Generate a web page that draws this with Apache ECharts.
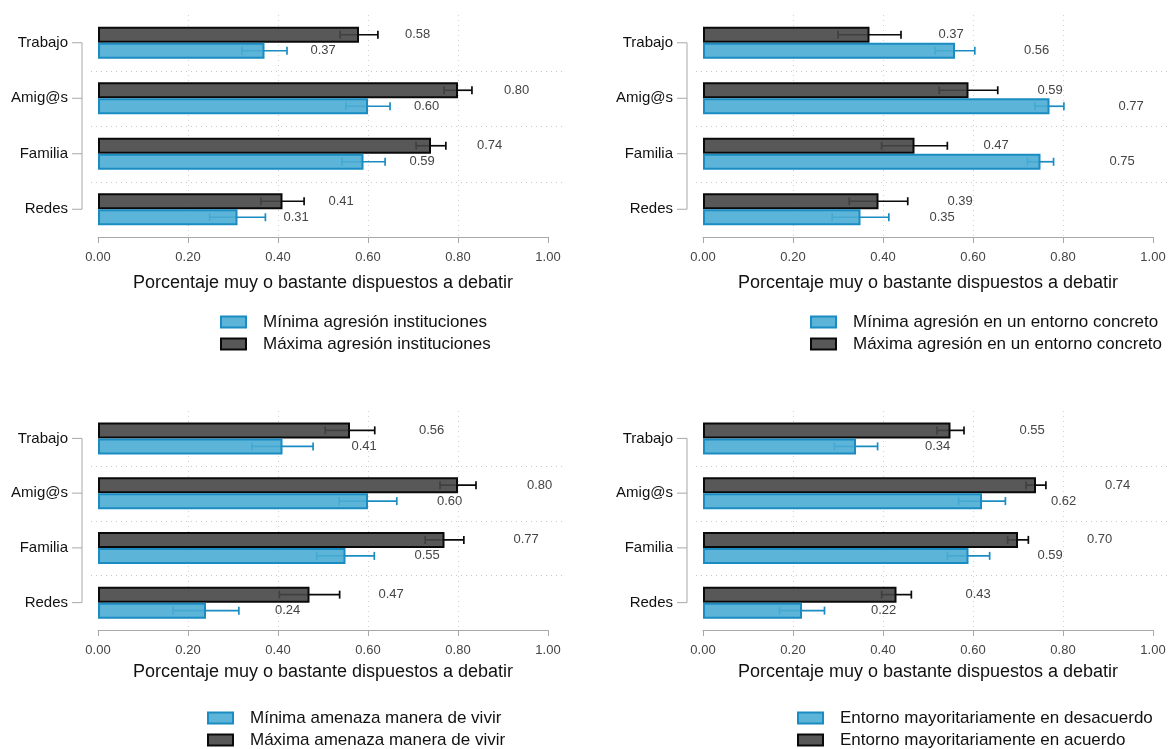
<!DOCTYPE html>
<html>
<head>
<meta charset="utf-8">
<script src="https://cdn.jsdelivr.net/npm/echarts@6/dist/echarts.min.js"></script>
<style>
html,body{margin:0;padding:0;background:#fff;}
#chart{width:1170px;height:749px;}
</style>
</head>
<body>
<div id="chart"></div>
<script>
// ---- data ----
const categories = ['Trabajo', 'Amig@s', 'Familia', 'Redes'];
const xTicks = [0, 0.2, 0.4, 0.6, 0.8, 1.0];

// Top-left: agresión instituciones
const tlBlueName = 'Mínima agresión instituciones';
const tlDarkName = 'Máxima agresión instituciones';
const tlBlue = [0.37, 0.60, 0.59, 0.31];
const tlBlueErr = [0.050, 0.049, 0.048, 0.062];
const tlDark = [0.58, 0.80, 0.74, 0.41];
const tlDarkErr = [0.042, 0.031, 0.033, 0.048];

// Top-right: agresión en un entorno concreto
const trBlueName = 'Mínima agresión en un entorno concreto';
const trDarkName = 'Máxima agresión en un entorno concreto';
const trBlue = [0.56, 0.77, 0.75, 0.35];
const trBlueErr = [0.044, 0.032, 0.029, 0.063];
const trDark = [0.37, 0.59, 0.47, 0.39];
const trDarkErr = [0.070, 0.065, 0.073, 0.065];

// Bottom-left: amenaza manera de vivir
const blBlueName = 'Mínima amenaza manera de vivir';
const blDarkName = 'Máxima amenaza manera de vivir';
const blBlue = [0.41, 0.60, 0.55, 0.24];
const blBlueErr = [0.068, 0.064, 0.064, 0.073];
const blDark = [0.56, 0.80, 0.77, 0.47];
const blDarkErr = [0.055, 0.040, 0.043, 0.067];

// Bottom-right: entorno
const brBlueName = 'Entorno mayoritariamente en desacuerdo';
const brDarkName = 'Entorno mayoritariamente en acuerdo';
const brBlue = [0.34, 0.62, 0.59, 0.22];
const brBlueErr = [0.048, 0.052, 0.047, 0.050];
const brDark = [0.55, 0.74, 0.70, 0.43];
const brDarkErr = [0.030, 0.022, 0.023, 0.033];

const axisTitle = 'Porcentaje muy o bastante dispuestos a debatir';

// ---- styles ----
const FONT = 'Liberation Sans, Arial, sans-serif';
const BLUE_FILL = 'rgba(74,172,212,0.9)';
const BLUE_LINE = '#1a8cc2';
const DARK_FILL = 'rgba(70,70,70,0.9)';
const DARK_LINE = '#0a0a0a';
const BAR_W = 16;

const panels = [
  {grid: {left: 98, width: 450, top: 15, height: 222}, legend: {left: 220, top: 313}, nameGap: 37,
   blueName: tlBlueName, darkName: tlDarkName, blue: tlBlue, blueErr: tlBlueErr, dark: tlDark, darkErr: tlDarkErr, labDist: 46},
  {grid: {left: 703, width: 450, top: 15, height: 222}, legend: {left: 810, top: 313}, nameGap: 37,
   blueName: trBlueName, darkName: trDarkName, blue: trBlue, blueErr: trBlueErr, dark: trDark, darkErr: trDarkErr, labDist: 69},
  {grid: {left: 98, width: 450, top: 411, height: 219}, legend: {left: 207, top: 709}, nameGap: 33,
   blueName: blBlueName, darkName: blDarkName, blue: blBlue, blueErr: blBlueErr, dark: blDark, darkErr: blDarkErr, labDist: 69},
  {grid: {left: 703, width: 450, top: 411, height: 219}, legend: {left: 797, top: 709}, nameGap: 33,
   blueName: brBlueName, darkName: brDarkName, blue: brBlue, blueErr: brBlueErr, dark: brDark, darkErr: brDarkErr, labDist: 69}
];

const grids = [], xAxes = [], yAxes = [], series = [], legends = [];

panels.forEach((p, i) => {
  grids.push(Object.assign({containLabel: false}, p.grid));
  xAxes.push({
    type: 'value', gridIndex: i, min: 0, max: 1, interval: 0.2,
    name: axisTitle, nameLocation: 'middle', nameGap: p.nameGap,
    nameTextStyle: {fontFamily: FONT, fontSize: 18, color: '#111'},
    axisLine: {show: true, lineStyle: {color: '#a8a8a8', width: 1}},
    axisTick: {show: true, length: 6, lineStyle: {color: '#a8a8a8'}},
    axisLabel: {fontFamily: FONT, fontSize: 13, color: '#444', margin: 14,
      formatter: v => v.toFixed(2)},
    splitLine: {show: true, showMinLine: false, showMaxLine: false,
      lineStyle: {type: [1, 4], color: '#d2d2d2', width: 1}}
  });
  yAxes.push({
    type: 'category', gridIndex: i, data: categories, inverse: true,
    axisLine: {show: false}, axisTick: {show: false},
    axisLabel: {fontFamily: FONT, fontSize: 15, color: '#111', margin: 30},
    splitLine: {show: false}
  });

  const labelCfg = {show: true, position: 'right', distance: p.labDist,
    fontFamily: FONT, fontSize: 13, color: '#444', formatter: d => d.value.toFixed(2)};

  series.push({
    name: p.darkName, type: 'bar', xAxisIndex: i, yAxisIndex: i,
    data: p.dark, barWidth: BAR_W, barGap: '0%', z: 3,
    itemStyle: {color: DARK_FILL, borderColor: DARK_LINE, borderWidth: 2},
    label: labelCfg, emphasis: {disabled: true}
  });
  series.push({
    name: p.blueName, type: 'bar', xAxisIndex: i, yAxisIndex: i,
    data: p.blue, barWidth: BAR_W, barGap: '0%', z: 3,
    itemStyle: {color: BLUE_FILL, borderColor: BLUE_LINE, borderWidth: 2},
    label: labelCfg, emphasis: {disabled: true}
  });

  // error bars
  const errSeries = (vals, errs, color, offset) => ({
    type: 'custom', xAxisIndex: i, yAxisIndex: i, z: 2, silent: true,
    data: vals.map((v, k) => [k, v, errs[k]]),
    renderItem: (params, api) => {
      const k = api.value(0), v = api.value(1), e = api.value(2);
      const c = api.coord([v, k]);
      const y = c[1] + offset;
      const x1 = api.coord([v - e, k])[0];
      const x2 = api.coord([v + e, k])[0];
      const h = 4;
      const st = {stroke: color, lineWidth: 1.7};
      return {type: 'group', children: [
        {type: 'line', shape: {x1: x1, y1: y, x2: x2, y2: y}, style: st},
        {type: 'line', shape: {x1: x1, y1: y - h, x2: x1, y2: y + h}, style: st},
        {type: 'line', shape: {x1: x2, y1: y - h, x2: x2, y2: y + h}, style: st}
      ]};
    }
  });
  series.push(errSeries(p.dark, p.darkErr, DARK_LINE, -BAR_W / 2));
  series.push(errSeries(p.blue, p.blueErr, BLUE_LINE, BAR_W / 2));

  // bracket-style y axis line (first to last category) + dotted separators
  series.push({
    type: 'custom', xAxisIndex: i, yAxisIndex: i, silent: true, z: 1,
    data: [[0, 0]],
    renderItem: (params, api) => {
      const top = api.coord([0, 0]);
      const bot = api.coord([0, categories.length - 1]);
      const xRight = api.coord([1, 0])[0];
      const xl = top[0] - 16;
      const st = {stroke: '#a8a8a8', lineWidth: 1};
      const dst = {stroke: '#c8c8c8', lineWidth: 1, lineDash: [1, 4]};
      const kids = [{type: 'line', shape: {x1: xl, y1: top[1], x2: xl, y2: bot[1]}, style: st}];
      categories.forEach((c, k) => {
        const y = api.coord([0, k])[1];
        kids.push({type: 'line', shape: {x1: xl - 10, y1: y, x2: xl, y2: y}, style: st});
        if (k < categories.length - 1) {
          const yn = api.coord([0, k + 1])[1];
          const ym = Math.round((y + yn) / 2) + 0.5;
          kids.push({type: 'line', shape: {x1: top[0] - 7, y1: ym, x2: xRight + 17, y2: ym}, style: dst});
        }
      });
      return {type: 'group', children: kids};
    }
  });

  legends.push({
    orient: 'vertical', left: p.legend.left, top: p.legend.top, padding: 0, height: 60,
    data: [p.blueName, p.darkName], itemWidth: 25, itemHeight: 11, itemGap: 4,
    selectedMode: false, icon: 'rect',
    textStyle: {fontFamily: FONT, fontSize: 17, color: '#111', padding: [0, 0, 0, 12], lineHeight: 18}
  });
});

const chart = echarts.init(document.getElementById('chart'), null, {renderer: 'canvas'});
chart.setOption({
  animation: false,
  backgroundColor: '#fff',
  grid: grids, xAxis: xAxes, yAxis: yAxes, series: series, legend: legends
});
</script>
</body>
</html>
